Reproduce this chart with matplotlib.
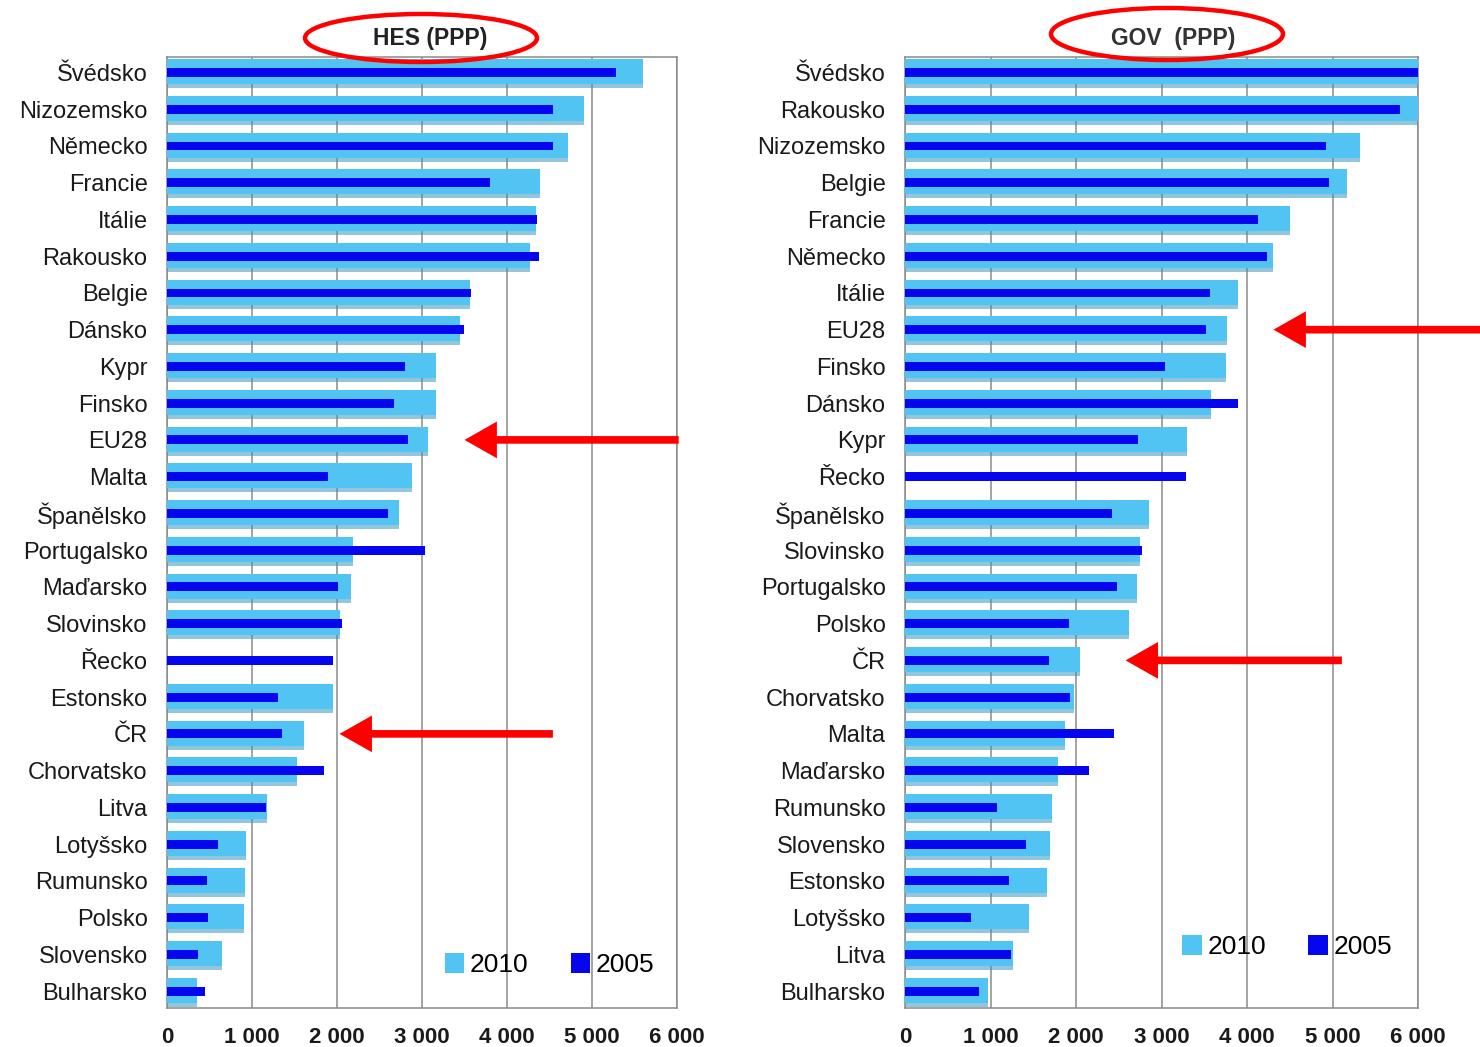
import numpy as np
import matplotlib
matplotlib.use("Agg")
import matplotlib.pyplot as plt
from matplotlib.patches import Ellipse

plt.rcParams['font.family'] = ['Liberation Sans', 'DejaVu Sans']

# ---------------- data ----------------
hes_countries = ["Švédsko", "Nizozemsko", "Německo", "Francie", "Itálie", "Rakousko",
                 "Belgie", "Dánsko", "Kypr", "Finsko", "EU28", "Malta", "Španělsko",
                 "Portugalsko", "Maďarsko", "Slovinsko", "Řecko", "Estonsko", "ČR",
                 "Chorvatsko", "Litva", "Lotyšsko", "Rumunsko", "Polsko", "Slovensko",
                 "Bulharsko"]
hes_2010 = [5600, 4900, 4720, 4390, 4340, 4270, 3560, 3450, 3165, 3165, 3075, 2885, 2735,
            2185, 2160, 2035, np.nan, 1950, 1615, 1530, 1175, 925, 920, 905, 650, 358]
hes_2005 = [5280, 4545, 4545, 3800, 4355, 4380, 3575, 3495, 2805, 2675, 2840, 1890, 2595,
            3030, 2015, 2055, 1950, 1305, 1357, 1848, 1162, 600, 475, 482, 366, 442]

gov_countries = ["Švédsko", "Rakousko", "Nizozemsko", "Belgie", "Francie", "Německo",
                 "Itálie", "EU28", "Finsko", "Dánsko", "Kypr", "Řecko", "Španělsko",
                 "Slovinsko", "Portugalsko", "Polsko", "ČR", "Chorvatsko", "Malta",
                 "Maďarsko", "Rumunsko", "Slovensko", "Estonsko", "Lotyšsko", "Litva",
                 "Bulharsko"]
gov_2010 = [6100, 6020, 5320, 5170, 4505, 4300, 3890, 3765, 3755, 3575, 3297, np.nan, 2854,
            2743, 2711, 2624, 2050, 1980, 1875, 1790, 1720, 1700, 1656, 1447, 1258, 973]
gov_2005 = [6050, 5795, 4925, 4963, 4130, 4230, 3563, 3524, 3040, 3892, 2722, 3286, 2425,
            2774, 2477, 1918, 1684, 1925, 2450, 2148, 1078, 1413, 1216, 776, 1238, 860]

x_ticks = [0, 1000, 2000, 3000, 4000, 5000, 6000]
x_ticklabels = ["0", "1 000", "2 000", "3 000", "4 000", "5 000", "6 000"]
series_labels = ["2010", "2005"]
titles = ["HES (PPP)", "GOV  (PPP)"]

LIGHT = "#52c4f3"
SHADOW = "#3a98c2"
DARK = "#0606ee"
RED = "#ff0000"

fig = plt.figure(figsize=(14.8, 10.47), dpi=100)
W, H = 1480, 1047


def px_axes(x0, x1, y0, y1):
    return fig.add_axes([x0 / W, 1 - y1 / H, (x1 - x0) / W, (y1 - y0) / H])


def draw_panel(ax, countries, v2010, v2005):
    y = np.arange(len(countries))
    ax.set_xlim(0, 6000)
    ax.set_ylim(len(countries) - 0.54, -0.42)
    ax.set_axisbelow(True)
    ax.grid(axis="x", color="#8a8a8a", linewidth=1.1)
    # soft shadow under the 2010 bars
    ax.barh(y + 0.12, v2010, height=0.62, color=SHADOW, alpha=0.55, linewidth=0, zorder=2)
    b1 = ax.barh(y - 0.02, v2010, height=0.68, color=LIGHT, linewidth=0, zorder=3,
                 label=series_labels[0])
    b2 = ax.barh(y, v2005, height=0.24, color=DARK, linewidth=0, zorder=4,
                 label=series_labels[1])
    ax.set_yticks(y)
    ax.set_yticklabels(countries, fontsize=17, color="#1a1a1a")
    ax.set_xticks(x_ticks)
    ax.set_xticklabels(x_ticklabels, fontsize=16, fontweight="bold", color="#1a1a1a")
    ax.tick_params(axis="y", length=0, pad=14)
    ax.tick_params(axis="x", length=0, pad=14)
    for s in ax.spines.values():
        s.set_color("#8a8a8a")
        s.set_linewidth(1.1)
    return b1, b2


axL = px_axes(167, 677, 57, 1008)
axR = px_axes(905, 1418, 57, 1008)

hL = draw_panel(axL, hes_countries, hes_2010, hes_2005)
hR = draw_panel(axR, gov_countries, gov_2010, gov_2005)

for ax, hh, anchor in [(axL, hL, (0.75, 0.045)), (axR, hR, (0.745, 0.064))]:
    ax.legend(hh, series_labels, loc="center", bbox_to_anchor=anchor, ncol=2,
              frameon=False, fontsize=19, handlelength=0.75, handleheight=0.75,
              handletextpad=0.2, columnspacing=1.6, borderaxespad=0)

# titles with red ellipses
fig.text(430 / W, 1 - 39 / H, titles[0], ha="center", va="center", fontsize=16.5,
         fontweight="bold", color="#222222")
fig.text(1173 / W, 1 - 39 / H, titles[1], ha="center", va="center", fontsize=16.5,
         fontweight="bold", color="#333333")
fig.patches.append(Ellipse((421 / W, 1 - 38 / H), 232 / W, 48 / H, transform=fig.transFigure,
                           fill=False, edgecolor=RED, linewidth=3.2, zorder=10))
fig.patches.append(Ellipse((1167 / W, 1 - 34 / H), 232 / W, 52 / H, transform=fig.transFigure,
                           fill=False, edgecolor=RED, linewidth=3.2, zorder=10))

# red arrows pointing at EU28 and ČR


def arrow(ax, countries, name, x_head, x_tail):
    yy = countries.index(name)
    ax.annotate("", xy=(x_head, yy), xytext=(x_tail, yy), annotation_clip=False,
                arrowprops=dict(arrowstyle="-|>,head_length=1.5,head_width=0.85",
                                color=RED, lw=5.5, shrinkA=0, shrinkB=0,
                                capstyle="butt", joinstyle="miter"), zorder=20)


arrow(axL, hes_countries, "EU28", 3500, 6020)
arrow(axL, hes_countries, "ČR", 2030, 4540)
arrow(axR, gov_countries, "EU28", 4310, 6780)
arrow(axR, gov_countries, "ČR", 2580, 5110)

fig.savefig("out.png", dpi=100, facecolor="white")
